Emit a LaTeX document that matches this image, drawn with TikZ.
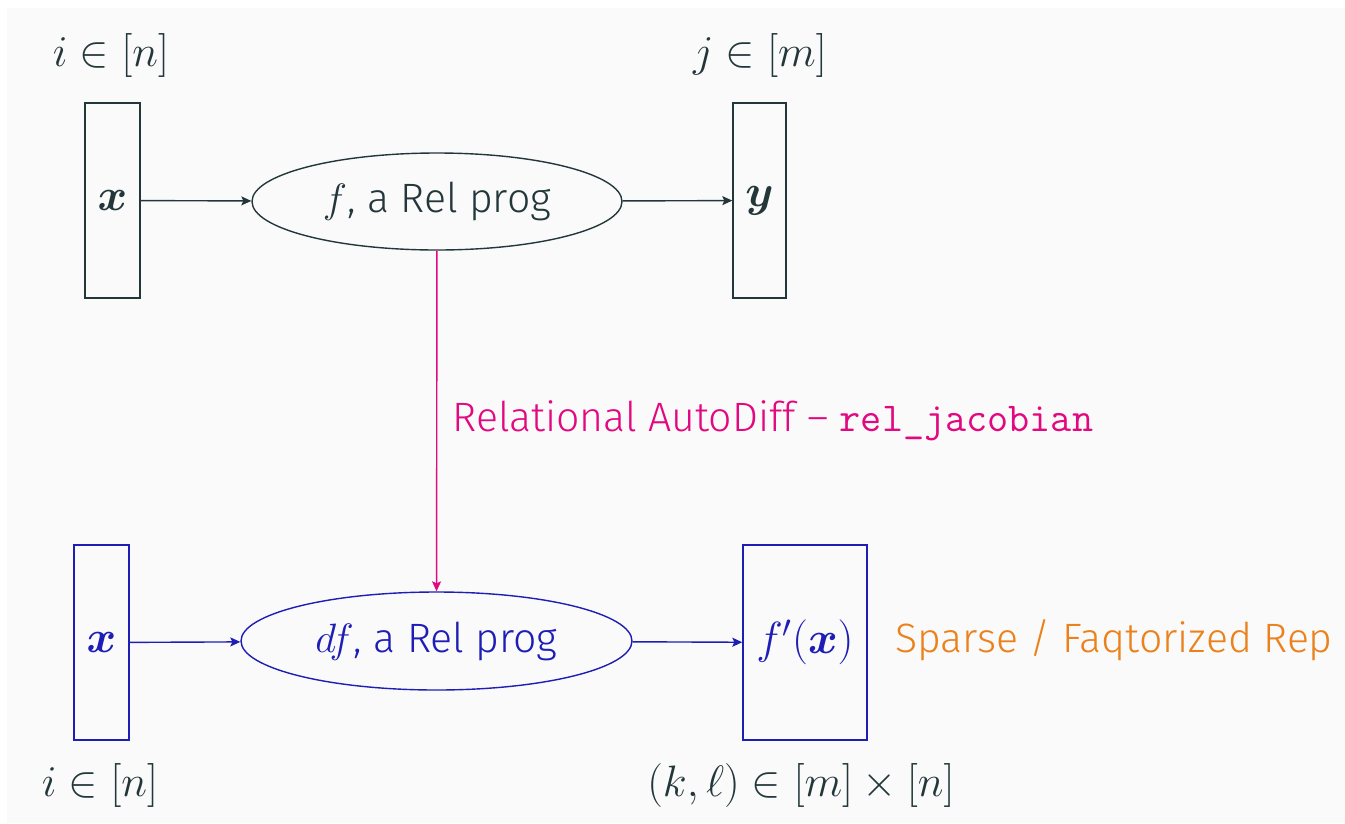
\RequirePackage{fix-cm}
\documentclass[tikz,border=0pt]{standalone}
\usepackage{amsmath,bm}
\usepackage{fontspec}
\setmainfont{Fira Sans Light}
\usetikzlibrary{shapes.geometric,arrows.meta}

\definecolor{pagebg}{HTML}{FAFAFA}
\definecolor{teal}{HTML}{23373B}
\definecolor{dblue}{RGB}{30,30,182}
\definecolor{rosa}{RGB}{226,8,128}
\definecolor{ocre}{HTML}{EB811B}

\tikzset{
  vec/.style={draw, rectangle, minimum height=195pt, inner sep=0pt, line width=1.4pt,
    font=\fontsize{45}{50}\selectfont},
  prog/.style={draw, ellipse, inner sep=0pt, line width=1.4pt},
  idx/.style={inner sep=0pt, font=\fontsize{44}{48}\selectfont},
  txt/.style={font=\fontsize{41}{46}\selectfont},
  flow/.style={line width=1.4pt, -{Stealth[length=10pt,width=9pt,inset=2pt]}},
}

\begin{document}
\begin{tikzpicture}[x=1pt,y=-1pt]
  \useasboundingbox (0,0) rectangle (1345,823);
  \fill[white] (0,0) rectangle (1345,823);
  \fill[pagebg] (7,8) rectangle (1345,823);

  % original program
  \begin{scope}[teal, text=teal]
    \node[vec, minimum width=55pt] (xt) at (112.5,200.5) {$\bm{x}$};
    \node[prog, minimum width=370pt, minimum height=97pt, txt] (ft) at (437,201.5) {$f$, a Rel prog};
    \node[vec, minimum width=53pt] (yt) at (759.5,200.5) {$\bm{y}$};
    \node[idx] (it) at (111,55) {$i \in [n]$};
    \node[idx] (jt) at (760,55) {$j \in [m]$};
    \draw[flow] (xt) -- (ft);
    \draw[flow] (ft) -- (yt);
  \end{scope}

  % derivative program
  \begin{scope}[dblue, text=dblue]
    \node[vec, minimum width=55pt] (xb) at (101.5,642.5) {$\bm{x}$};
    \node[prog, minimum width=391pt, minimum height=98pt, txt] (df) at (436.5,641) {$df$, a Rel prog};
    \node[vec, minimum width=124pt] (fp) at (805,642.5) {$f'(\bm{x})$};
    \draw[flow] (xb) -- (df);
    \draw[flow] (df) -- (fp);
  \end{scope}
  \node[idx, text=teal] (ib) at (100,785) {$i \in [n]$};
  \node[idx, text=teal] (kl) at (801,785) {$(k,\ell) \in [m] \times [n]$};

  \node[txt, text=ocre, anchor=west, inner sep=0pt] (rep) at (895,640) {Sparse / Faqtorized Rep};

  % differentiation step
  \draw[flow, rosa] (ft) -- (df)
    node[pos=0.5, anchor=west, inner sep=0pt, xshift=15pt, txt, text=rosa] (ad)
    {Relational AutoDiff -- \texttt{rel\_jacobian}};
\end{tikzpicture}
\end{document}
